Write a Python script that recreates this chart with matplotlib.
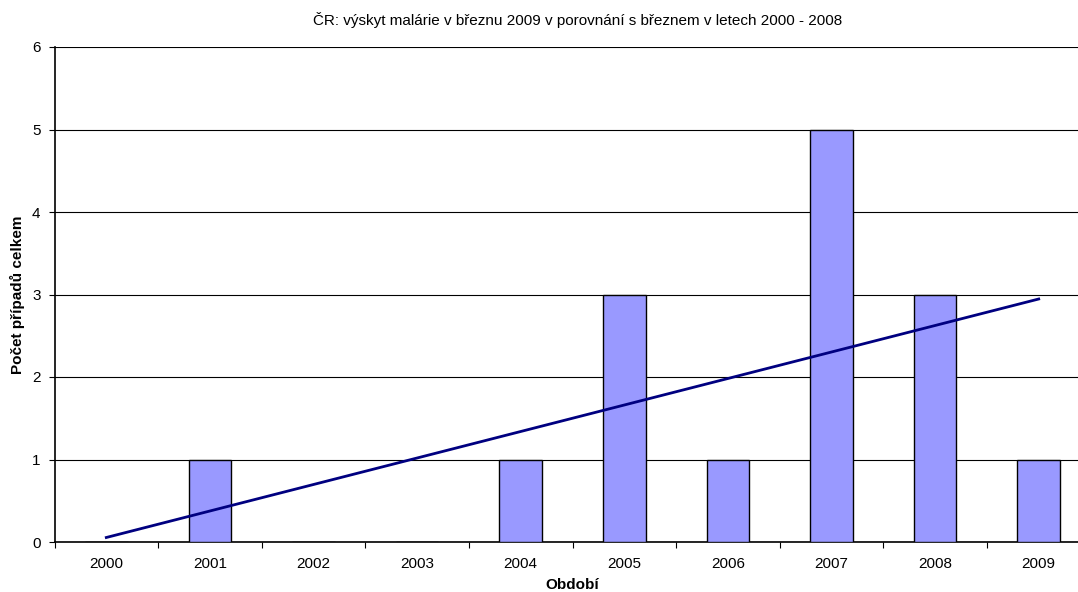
import numpy as np
import matplotlib
matplotlib.use("Agg")
import matplotlib.pyplot as plt

plt.rcParams['font.family'] = ['Liberation Sans', 'DejaVu Sans']

years = ['2000', '2001', '2002', '2003', '2004', '2005', '2006', '2007', '2008', '2009']
cases = [0, 1, 0, 0, 1, 3, 1, 5, 3, 1]
title = 'ČR: výskyt malárie v březnu 2009 v porovnání s březnem v letech 2000 - 2008'

W, H = 1078, 592
fig = plt.figure(figsize=(W / 100, H / 100), dpi=100)
# plot area runs slightly past the right edge of the canvas
ax = fig.add_axes([54.5 / W, 50 / H, 1036 / W, 495 / H])

x = np.arange(len(years))
ax.bar(x, cases, width=0.41, color='#9999FF', edgecolor='black', linewidth=1.0, zorder=3)

# linear trend over the series
slope, intercept = np.polyfit(x, cases, 1)
ax.plot(x, intercept + slope * x, color='#000080', linewidth=2.0, zorder=4)

ax.set_xlim(-0.5, len(years) - 0.5)
ax.set_ylim(0, 6)
ax.set_yticks(range(0, 7))
ax.yaxis.grid(True, color='black', linewidth=0.8, zorder=0)
ax.set_axisbelow(True)

ax.set_xticks(x)
ax.set_xticklabels(years)
ax.set_xticks(np.arange(-0.5, len(years), 1), minor=True)
ax.tick_params(axis='x', which='major', length=0, pad=11, labelsize=11)
ax.tick_params(axis='x', which='minor', length=4, width=0.8, direction='out')
ax.tick_params(axis='y', length=4, width=0.8, direction='out', labelsize=11, pad=6)

for side in ('top', 'right'):
    ax.spines[side].set_visible(False)
ax.spines['left'].set_linewidth(1.2)
ax.spines['bottom'].set_linewidth(1.2)

ax.set_xlabel('Období', fontsize=11, fontweight='bold', labelpad=5)
ax.set_ylabel('Počet případů celkem', fontsize=11, fontweight='bold', labelpad=5)
fig.text(578 / W, 1 - 20 / H, title, ha='center', va='center', fontsize=11)

fig.savefig('out.png', dpi=100)
